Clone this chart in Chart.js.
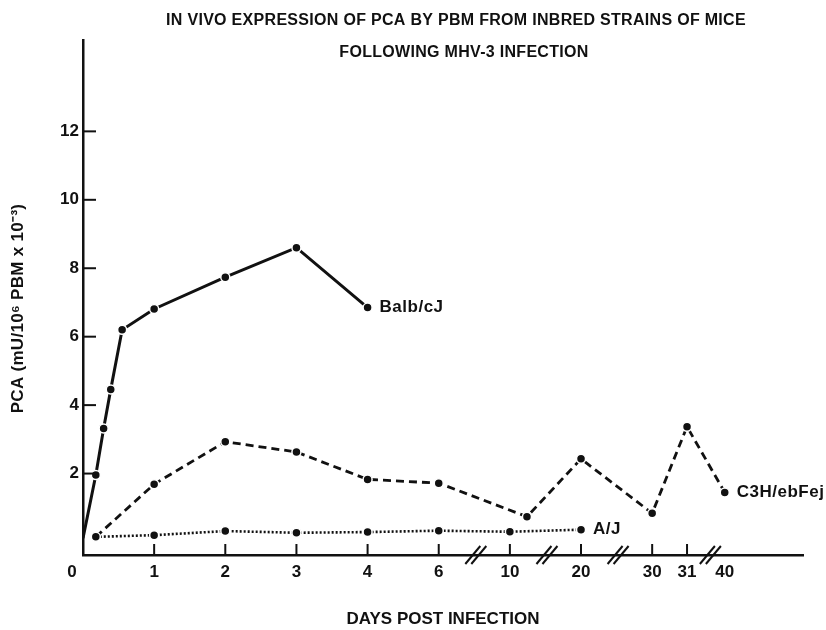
<!DOCTYPE html>
<html>
<head>
<meta charset="utf-8">
<script src="https://cdn.jsdelivr.net/npm/chart.js@4/dist/chart.umd.min.js"></script>
<style>
  html, body { margin: 0; padding: 0; background: #fff; }
  #wrap { width: 826px; height: 630px; }
</style>
</head>
<body>
<div id="wrap"><canvas id="c" width="826" height="630"></canvas></div>
<script>
// ---- data ----
const titleLines = ['IN VIVO EXPRESSION OF PCA BY PBM FROM INBRED STRAINS OF MICE', 'FOLLOWING MHV-3 INFECTION'];
const xTitle = 'DAYS POST INFECTION';
const yTitle = 'PCA (mU/10\u2076 PBM x 10\u207B\u00B3)';

// x axis is broken: tick labels (days) and the slot each one occupies on the axis
const dayTicks  = [0, 1, 2, 3, 4, 6, 10, 20, 30, 31, 40];
const daySlots  = [0, 1, 2, 3, 4, 5, 6, 7, 8, 8.49, 9.02];
const yTicks    = [2, 4, 6, 8, 10, 12];

const seriesNames = ['Balb/cJ', 'C3H/ebFej', 'A/J'];
const balbDays = [0, 0.18, 0.29, 0.39, 0.55, 1, 2, 3, 4];
const balbPCA  = [0.11, 1.96, 3.32, 4.46, 6.2, 6.81, 7.74, 8.6, 6.85];
const c3hDays  = [0.18, 1, 2, 3, 4, 6, 12.4, 20, 30, 31, 40];
const c3hPCA   = [0.15, 1.69, 2.93, 2.63, 1.83, 1.72, 0.74, 2.43, 0.84, 3.37, 1.45];
const ajDays   = [0.18, 1, 2, 3, 4, 6, 10, 20];
const ajPCA    = [0.15, 0.2, 0.32, 0.27, 0.29, 0.33, 0.30, 0.36];

// map a day onto the broken axis by interpolating between labelled ticks
function daySlot(d) {
  for (let i = 0; i < dayTicks.length - 1; i++) {
    if (d >= dayTicks[i] && d <= dayTicks[i + 1]) {
      const f = (d - dayTicks[i]) / (dayTicks[i + 1] - dayTicks[i]);
      return daySlots[i] + f * (daySlots[i + 1] - daySlots[i]);
    }
  }
  return daySlots[daySlots.length - 1];
}
const pts = (days, vals) => days.map((d, i) => ({ x: daySlot(d), y: vals[i] }));

const FONT = "'Liberation Sans', Arial, Helvetica, sans-serif";
const INK = '#111';

const decor = {
  id: 'decor',
  afterDraw(chart) {
    const { ctx, chartArea: ca, scales: { x, y } } = chart;
    ctx.save();
    ctx.strokeStyle = INK; ctx.fillStyle = INK; ctx.lineWidth = 2;
    // inward tick marks
    dayTicks.forEach((d, i) => {
      if (i === 0 || i === dayTicks.length - 1) return;
      const px = x.getPixelForValue(daySlots[i]);
      ctx.beginPath(); ctx.moveTo(px, ca.bottom); ctx.lineTo(px, ca.bottom - 11); ctx.stroke();
    });
    yTicks.forEach(v => {
      const py = y.getPixelForValue(v);
      ctx.beginPath(); ctx.moveTo(ca.left, py); ctx.lineTo(ca.left + 13, py); ctx.stroke();
    });
    // axis break marks (//) between non-contiguous ticks
    const breaks = [[5, 6], [6, 7], [7, 8], [9, 10]];
    breaks.forEach(([a, b]) => {
      const px = (x.getPixelForValue(daySlots[a]) + x.getPixelForValue(daySlots[b])) / 2 + (b === 10 ? 5 : 2);
      [-3, 3].forEach(o => {
        ctx.beginPath();
        ctx.moveTo(px + o - 8, ca.bottom + 9);
        ctx.lineTo(px + o + 7, ca.bottom - 9);
        ctx.stroke();
      });
    });
    // origin "0"
    ctx.font = 'bold 17px ' + FONT;
    ctx.textAlign = 'center'; ctx.textBaseline = 'middle';
    ctx.fillText(String(dayTicks[0]), x.getPixelForValue(daySlots[0]) - 11, ca.bottom + 17);
    // series labels next to the last point
    ctx.textAlign = 'left';
    ctx.letterSpacing = '0.5px';
    chart.data.datasets.forEach((ds, i) => {
      const meta = chart.getDatasetMeta(i);
      const last = meta.data[meta.data.length - 1];
      ctx.fillText(seriesNames[i], last.x + 12, last.y);
    });
    // main title
    ctx.letterSpacing = '0.3px';
    ctx.font = 'bold 16px ' + FONT;
    ctx.textAlign = 'center';
    ctx.fillText(titleLines[0], 456, 21);
    ctx.fillText(titleLines[1], 464, 53);
    // y axis title (rotated)
    ctx.font = 'bold 17px ' + FONT;
    ctx.translate(18, (ca.top + ca.bottom) / 2 + 11);
    ctx.rotate(-Math.PI / 2);
    ctx.fillText(yTitle, 0, 0);
    ctx.restore();
  }
};

const common = {
  borderColor: INK, backgroundColor: INK, pointBackgroundColor: INK,
  pointBorderColor: '#fff', pointBorderWidth: 1.5, pointRadius: 4.5,
  fill: false, tension: 0
};

new Chart(document.getElementById('c'), {
  type: 'line',
  data: {
    datasets: [
      { ...common, label: seriesNames[0], data: pts(balbDays, balbPCA), borderWidth: 3,
        pointRadius: balbDays.map((d, i) => i === 0 ? 0 : 4.5) },
      { ...common, label: seriesNames[1], data: pts(c3hDays, c3hPCA), borderWidth: 2.8, borderDash: [8, 5] },
      { ...common, label: seriesNames[2], data: pts(ajDays, ajPCA), borderWidth: 2.6, borderDash: [2, 2] }
    ]
  },
  plugins: [decor],
  options: {
    responsive: false, animation: false,
    layout: { padding: { top: 40, right: 23, left: 0, bottom: 0 } },
    plugins: { legend: { display: false }, tooltip: { enabled: false }, title: { display: false } },
    scales: {
      x: {
        type: 'linear', min: 0, max: 10.12,
        afterFit(s) { s.height = 75; },
        afterBuildTicks(s) { s.ticks = daySlots.map(v => ({ value: v })); },
        grid: { display: false, drawTicks: false },
        border: { display: true, color: INK, width: 2.5 },
        ticks: {
          autoSkip: false, maxRotation: 0, padding: 7, color: INK,
          font: { family: FONT, size: 17, weight: 'bold' },
          callback: (v, i) => i === 0 ? '' : String(dayTicks[i])
        },
        title: { display: true, text: xTitle, color: INK, padding: { top: 0, bottom: 0 },
                 font: { family: FONT, size: 17, weight: 'bold' } }
      },
      y: {
        type: 'linear', min: -0.38, max: 14.67,
        afterFit(s) { s.width = 83; },
        afterBuildTicks(s) { s.ticks = yTicks.map(v => ({ value: v })); },
        grid: { display: false, drawTicks: false },
        border: { display: true, color: INK, width: 2.5 },
        ticks: { padding: 4, color: INK, font: { family: FONT, size: 17, weight: 'bold' } },
        title: { display: false, text: yTitle }
      }
    }
  }
});
</script>
</body>
</html>
